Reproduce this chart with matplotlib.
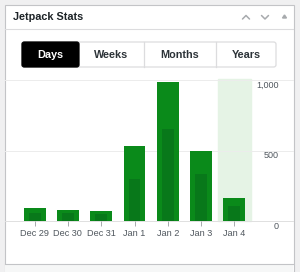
import matplotlib
matplotlib.use("Agg")
import matplotlib.pyplot as plt
from matplotlib.patches import Rectangle, FancyBboxPatch
from matplotlib.lines import Line2D
import matplotlib.transforms as mtransforms

# ---- data ----
days = ["Dec 29", "Dec 30", "Dec 31", "Jan 1", "Jan 2", "Jan 3", "Jan 4"]
views = [94, 80, 73, 532, 983, 494, 161]
visitors = [59, 54, 47, 298, 652, 335, 108]
ytick_values = [0, 500, 1000]
ytick_labels = ["0", "500", "1,000"]
tabs = ["Days", "Weeks", "Months", "Years"]
title = "Jetpack Stats"
highlight_index = 6

W, H = 300, 272
fig = plt.figure(figsize=(W / 100, H / 100), dpi=100)
fig.patch.set_facecolor("#f0f0f1")
plt.rcParams["font.family"] = ["Liberation Sans", "DejaVu Sans"]


def fx(x):
    return x / W


def fy(y):
    return 1 - y / H


def rect_px(x0, y0, x1, y1, **kw):
    r = Rectangle((fx(x0), fy(y1)), fx(x1) - fx(x0), fy(y0) - fy(y1),
                  transform=fig.transFigure, **kw)
    fig.add_artist(r)
    return r


def line_px(xs, ys, **kw):
    fig.add_artist(Line2D([fx(x) for x in xs], [fy(y) for y in ys],
                          transform=fig.transFigure, **kw))


# panel
rect_px(4.5, 4.5, 293.5, 272, facecolor="white", edgecolor="#c3c4c7", lw=0.8, zorder=0)
rect_px(5, 264, 293, 272, facecolor="#f6f7f7", edgecolor="none", zorder=0.5)
line_px([5, 293], [264, 264], color="#c3c4c7", lw=0.8, zorder=1)
line_px([5, 293], [29, 29], color="#dcdcde", lw=0.8, zorder=1)

# header
fig.text(fx(13), fy(17.5), title, fontsize=7.8, fontweight="bold",
         color="#1d2327", ha="left", va="center")
ic = "#a7aaad"
line_px([242.5, 246, 249.5], [19, 15.5, 19], color=ic, lw=1.1, solid_capstyle="round")
line_px([261.5, 265, 268.5], [15.5, 19, 15.5], color=ic, lw=1.1, solid_capstyle="round")
tri = plt.Polygon([[fx(282.5), fy(18)], [fx(284.5), fy(15)], [fx(286.5), fy(18)]],
                  closed=True, transform=fig.transFigure, color=ic)
fig.add_artist(tri)

# tabs
edges = [22, 79, 144, 216, 276]
y0, y1 = 42, 67
grp = FancyBboxPatch((fx(edges[0]), fy(y1)), fx(edges[-1]) - fx(edges[0]), fy(y0) - fy(y1),
                     boxstyle="round,pad=0,rounding_size=0.008", transform=fig.transFigure,
                     facecolor="white", edgecolor="#dcdcde", lw=0.9, zorder=2)
fig.add_artist(grp)
for i, name in enumerate(tabs):
    a, b = edges[i], edges[i + 1]
    if i == 0:
        act = FancyBboxPatch((fx(a), fy(y1)), fx(b) - fx(a), fy(y0) - fy(y1),
                             boxstyle="round,pad=0,rounding_size=0.008",
                             transform=fig.transFigure, facecolor="#000000",
                             edgecolor="#000000", lw=0.9, zorder=3)
        fig.add_artist(act)
        col = "white"
    else:
        col = "#2c3338"
        if i > 1:
            line_px([a, a], [y0, y1], color="#dcdcde", lw=0.9, zorder=3)
    fig.text(fx((a + b) / 2), fy((y0 + y1) / 2 + 0.5), name, fontsize=7.8,
             fontweight="bold", color=col, ha="center", va="center", zorder=4)

# chart axes: x from 18 to 251 px, y baseline 221 -> 1000 at 80
ax = fig.add_axes([fx(18), fy(221), fx(251) - fx(18), fy(80) - fy(221)])
ax.set_facecolor("none")
ax.set_xlim(-0.5, len(days) - 0.5)
ax.set_ylim(0, 1000)
for s in ax.spines.values():
    s.set_visible(False)

x = list(range(len(days)))
ax.axvspan(highlight_index - 0.5, highlight_index + 0.5, ymin=0, ymax=1.01,
           color="#e5f3e5", zorder=0, clip_on=False)

x0f = (5 - 18) / (251 - 18)
x1f = (293 - 18) / (251 - 18)
for v in ytick_values:
    ax.axhline(v, xmin=x0f, xmax=x1f, color="#ececec" if v else "#e0e0e0",
               lw=0.7, zorder=0.5, clip_on=False)

ax.bar(x, views, width=0.66, color="#0a8a1a", zorder=2)
ax.bar(x, visitors, width=0.36, color="#08781a", zorder=3)

ax.set_xticks(x)
ax.set_xticklabels(days, fontsize=6.6, color="#50575e")
ax.tick_params(axis="x", length=3.5, width=0.7, color="#a7aaad", pad=2.5)
ax.set_yticks([])

trans = mtransforms.blended_transform_factory(fig.transFigure, ax.transData)
for v, lab in zip(ytick_values, ytick_labels):
    t = mtransforms.offset_copy(trans, fig=fig, x=0, y=-5.5, units="dots")
    ax.text(fx(278.5), v, lab, transform=t, fontsize=6.5, color="#50575e",
            ha="right", va="center", clip_on=False)

fig.savefig("out.png", dpi=100, facecolor=fig.get_facecolor())
